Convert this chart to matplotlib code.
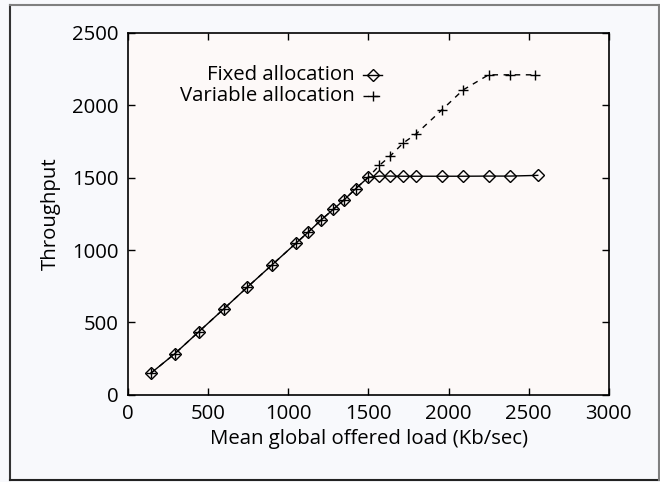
import numpy as np
import matplotlib.pyplot as plt
from matplotlib.lines import Line2D

# offered load (Kb/sec) and measured throughput
load_fixed = [140, 290, 440, 597, 742, 898, 1046, 1124, 1203, 1280, 1347, 1420, 1498,
              1568, 1636, 1716, 1797, 1958, 2090, 2250, 2384, 2557]
thr_fixed = [148, 283, 435, 594, 742, 898, 1046, 1124, 1207, 1281, 1346, 1424, 1502,
             1511, 1511, 1510, 1510, 1510, 1510, 1511, 1511, 1516]

load_var = [140, 290, 440, 597, 742, 898, 1046, 1124, 1203, 1280, 1347, 1420, 1498,
            1568, 1636, 1716, 1797, 1958, 2090, 2250, 2384, 2542]
thr_var = [148, 283, 435, 594, 742, 898, 1046, 1124, 1207, 1281, 1346, 1424, 1502,
           1585, 1650, 1739, 1802, 1968, 2106, 2211, 2211, 2211]

xticks = [0, 500, 1000, 1500, 2000, 2500, 3000]
yticks = [0, 500, 1000, 1500, 2000, 2500]

plt.rcParams['font.family'] = ['Open Sans', 'DejaVu Sans']
FS = 14.7

fig = plt.figure(figsize=(6.6, 4.82), dpi=100)
fig.patch.set_facecolor('#f8f9fc')

# frame around the whole figure: dark left/bottom, grey top/right
W, H = 660.0, 482.0
fig.add_artist(Line2D([10/W, 10/W], [1-480.3/H, 1-5/H], color='#333333', lw=1.5))
fig.add_artist(Line2D([10/W, 659/W], [1-480.3/H, 1-480.3/H], color='#222222', lw=1.5))
fig.add_artist(Line2D([10/W, 659/W], [1-5/H, 1-5/H], color='#808080', lw=1.5))
fig.add_artist(Line2D([659/W, 659/W], [1-480.3/H, 1-5/H], color='#808080', lw=1.5))

ax = fig.add_axes([128.3/W, 1-394.7/H, 480.4/W, 361.7/H])
ax.set_facecolor('#fdf9f8')

ax.plot(load_var, thr_var, color='black', lw=1.0, ls=(0, (4, 4)), marker='+',
        ms=6.5, mew=1.0)
ax.plot(load_fixed, thr_fixed, color='black', lw=1.0, marker='D', ms=6,
        mfc='none', mew=1.0)

ax.set_xlim(0, 3000)
ax.set_ylim(0, 2500)
ax.set_xticks(xticks)
ax.set_yticks(yticks)
ax.tick_params(direction='in', length=5, width=1, top=True, right=True,
               labelsize=FS, pad=7)
for s in ax.spines.values():
    s.set_linewidth(1.2)

ax.set_xlabel('Mean global offered load (Kb/sec)', fontsize=FS, labelpad=3)
ax.set_ylabel('Throughput', fontsize=FS, labelpad=8)

# key in gnuplot style: right-aligned text with a short sample line
keys = [('Fixed allocation', dict(ls='-', marker='D', ms=6, mfc='none')),
        ('Variable allocation', dict(ls=(0, (4, 4)), marker='+', ms=6.5))]
for i, (label, style) in enumerate(keys):
    yk = 1 - (75 + 21*i)/H
    fig.text(355/W, yk, label, ha='right', va='center', fontsize=FS)
    fig.add_artist(Line2D([363/W, 382/W], [yk, yk], color='black', lw=1.0,
                          mew=1.0, markevery=[], **style))
    fig.add_artist(Line2D([372.5/W], [yk], color='black', lw=0, mew=1.0,
                          marker=style['marker'], ms=style['ms'],
                          mfc=style.get('mfc', 'black')))

fig.savefig('out.png', dpi=100, facecolor=fig.get_facecolor())
